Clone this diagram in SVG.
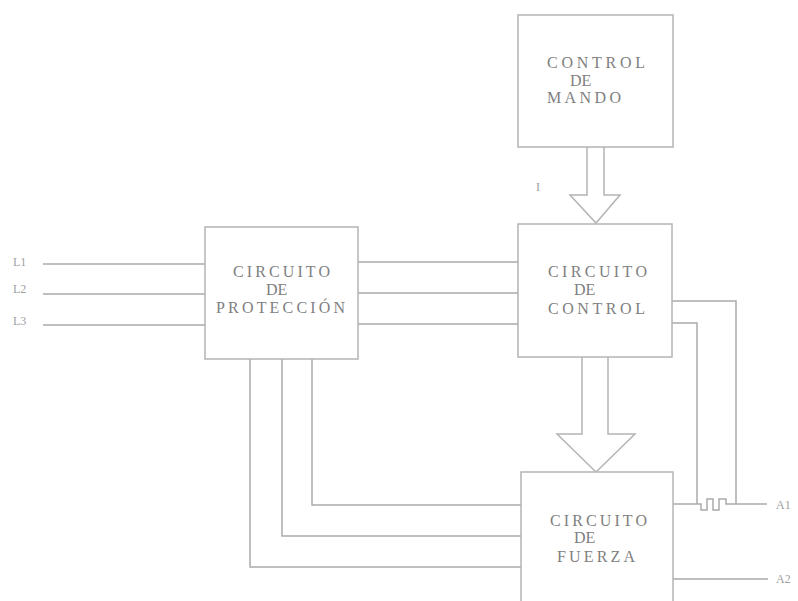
<svg xmlns="http://www.w3.org/2000/svg" width="798" height="601" viewBox="0 0 798 601">
<style>
.box{fill:#fff;stroke:#b4b4b4;stroke-width:1.5}
.ln{fill:none;stroke:#aaaaaa;stroke-width:1.5}
.arr{fill:#fff;stroke:#b4b4b4;stroke-width:1.5;stroke-linejoin:miter}
.t{font-family:"Liberation Serif","Times New Roman",serif;font-size:16px;fill:#808080}
.s{font-family:"Liberation Serif","Times New Roman",serif;font-size:12px;fill:#a0a0a0}
</style>
<rect width="798" height="601" fill="#fff"/>
<g id="connectors">
<line class="ln" x1="43" y1="264" x2="205" y2="264"/>
<line class="ln" x1="43" y1="294" x2="205" y2="294"/>
<line class="ln" x1="43" y1="325" x2="205" y2="325"/>
<line class="ln" x1="358" y1="262" x2="518" y2="262"/>
<line class="ln" x1="358" y1="293" x2="518" y2="293"/>
<line class="ln" x1="358" y1="324" x2="518" y2="324"/>
<polyline class="ln" points="312,359 312,505 521,505"/>
<polyline class="ln" points="282,359 282,536 521,536"/>
<polyline class="ln" points="250,359 250,567 521,567"/>
<polyline class="ln" points="672,301 736,301 736,504"/>
<polyline class="ln" points="672,323 697,323 697,504"/>
<path class="ln" d="M673,504 H701 V510 H707 V499 H713 V510 H719 V499 H726 V504 H767"/>
<line class="ln" x1="673" y1="579" x2="768" y2="579"/>
<path class="arr" d="M587,147 V195 H570 L596,223 L620,195 H604 V147"/>
<path class="arr" d="M582,357 V434 H557 L596,472 L635,434 H608 V357"/>
</g>
<g id="mando">
<rect class="box" x="518" y="15" width="155" height="132"/>
<text class="t" x="547" y="68" textLength="98" lengthAdjust="spacing">CONTROL</text>
<text class="t" x="570" y="86">DE</text>
<text class="t" x="547" y="103" textLength="74" lengthAdjust="spacing">MANDO</text>
</g>
<g id="proteccion">
<rect class="box" x="205" y="227" width="153" height="132"/>
<text class="t" x="233" y="277" textLength="97" lengthAdjust="spacing">CIRCUITO</text>
<text class="t" x="266" y="295">DE</text>
<text class="t" x="216" y="313" textLength="129" lengthAdjust="spacing">PROTECCIÓN</text>
</g>
<g id="control">
<rect class="box" x="518" y="224" width="154" height="133"/>
<text class="t" x="548" y="277" textLength="99" lengthAdjust="spacing">CIRCUITO</text>
<text class="t" x="574" y="295">DE</text>
<text class="t" x="548" y="314" textLength="97" lengthAdjust="spacing">CONTROL</text>
</g>
<g id="fuerza">
<rect class="box" x="521" y="472" width="152" height="140"/>
<text class="t" x="550" y="526" textLength="97" lengthAdjust="spacing">CIRCUITO</text>
<text class="t" x="574" y="543">DE</text>
<text class="t" x="557" y="562" textLength="78" lengthAdjust="spacing">FUERZA</text>
</g>
<g id="labels">
<text class="s" x="13" y="266">L1</text>
<text class="s" x="13" y="293">L2</text>
<text class="s" x="13" y="325">L3</text>
<text class="s" x="536" y="191">I</text>
<text class="s" x="776" y="509">A1</text>
<text class="s" x="776" y="583">A2</text>
</g>
</svg>
